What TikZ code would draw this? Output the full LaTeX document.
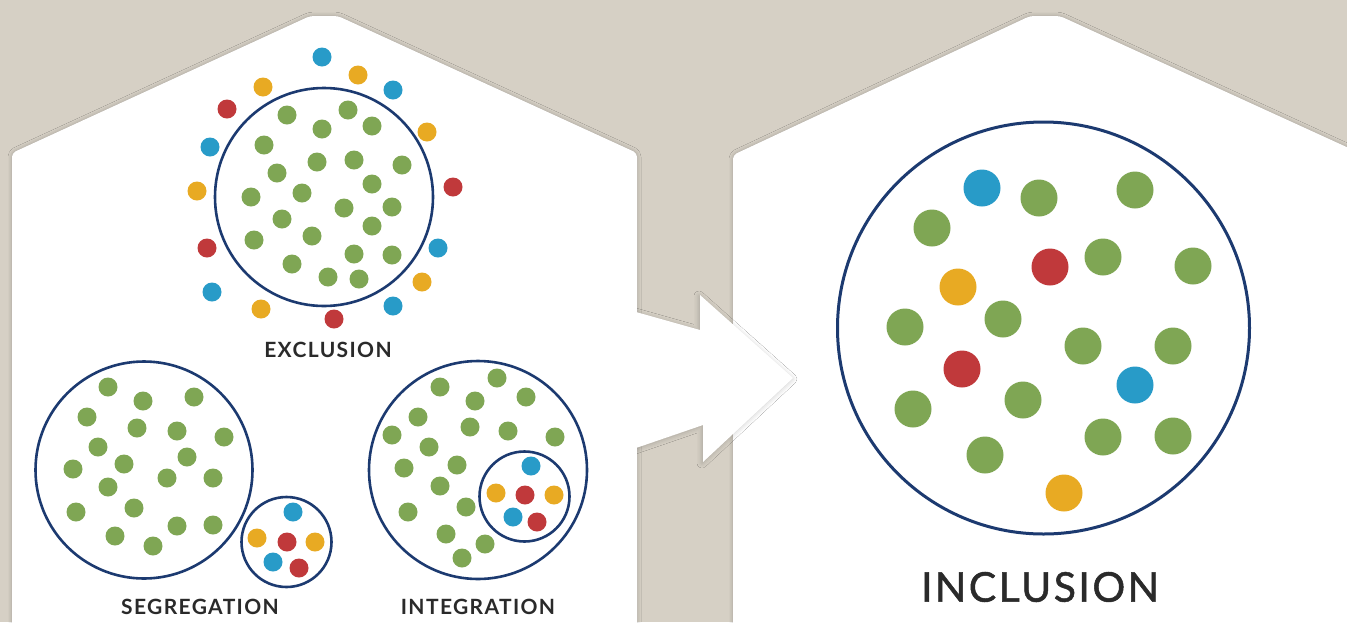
\documentclass[tikz,border=0pt]{standalone}
\usepackage{fontspec}
\setmainfont{Lato}
\newfontfamily\smalllabelfont{Lato}[LetterSpace=6.5]
\newfontfamily\biglabelfont{Lato}[LetterSpace=6, RawFeature={embolden=1.2}]
\usetikzlibrary{shadows.blur}

\definecolor{canvasbeige}{HTML}{D6D0C5}
\definecolor{dotgreen}{HTML}{7FA654}
\definecolor{dotblue}{HTML}{289BC8}
\definecolor{dotorange}{HTML}{E8AA23}
\definecolor{dotred}{HTML}{C0393B}
\definecolor{ringnavy}{HTML}{1C3A70}
\definecolor{labelgrey}{HTML}{2A2A2A}

\tikzset{
  panel/.style={fill=white, blur shadow={shadow xshift=0pt, shadow yshift=0pt,
      shadow blur radius=4pt, shadow opacity=25}},
  arrowshape/.style={fill=white, blur shadow={shadow xshift=-1pt, shadow yshift=-1pt,
      shadow blur radius=5pt, shadow opacity=22}},
  ring/.style={circle, draw=ringnavy, line width=2.6pt, inner sep=0pt},
  smalldot/.style={circle, inner sep=0pt, minimum size=19pt},
  bigdot/.style={circle, inner sep=0pt, minimum size=37pt},
  smalllabel/.style={text=labelgrey, font=\smalllabelfont\bfseries\fontsize{21}{23}\selectfont},
  biglabel/.style={text=labelgrey, font=\biglabelfont\fontsize{41}{46}\selectfont},
}

\begin{document}
\begin{tikzpicture}[x=1pt, y=-1pt]
\useasboundingbox (0,0) rectangle (1347,622);
\clip (0,0) rectangle (1347,622);
\fill[canvasbeige] (0,0) rectangle (1347,622);

% house-shaped panels
\path[panel, rounded corners=4pt] (733,640) -- (733,155) -- (1030,16) -- (1060,16)
  -- (1375,160) -- (1375,640) -- cycle;
\path[panel, rounded corners=4pt] (12,640) -- (12,153) -- (310,16) -- (338,16)
  -- (637,153) -- (637,640) -- cycle;

% arrow leaving the left panel
\begin{scope}
  \clip (637,0) rectangle (1347,622);
  \path[arrowshape] (636,312) -- (700,330) -- (700,295) -- (793,378) -- (703,462)
    -- (703,425) -- (636,448) -- cycle;
\end{scope}

% ---------- exclusion ----------
\foreach \x/\y [count=\i] in {287/115, 348/110, 322/129, 372/126, 264/145, 317/162,
  354/160, 402/165, 277/173, 372/184, 251/197, 302/193, 344/208, 392/207, 282/219,
  372/226, 254/240, 312/236, 354/254, 392/255, 292/264, 328/277, 359/279}
  \node[smalldot, fill=dotgreen] (exg\i) at (\x,\y) {};
\node[ring, minimum size=218pt] (exring) at (324,197) {};
\foreach \x/\y/\c [count=\i] in {322/57/dotblue, 358/75/dotorange, 393/90/dotblue,
  263/87/dotorange, 227/109/dotred, 427/132/dotorange, 210/147/dotblue,
  453/187/dotred, 197/191/dotorange, 207/248/dotred, 438/248/dotblue,
  422/282/dotorange, 212/292/dotblue, 261/309/dotorange, 393/306/dotblue,
  334/319/dotred}
  \node[smalldot, fill=\c] (exo\i) at (\x,\y) {};
\node[smalllabel] (exlabel) at (328,350) {EXCLUSION};

% ---------- segregation ----------
\node[ring, minimum size=217pt] (segring) at (144,470) {};
\foreach \x/\y [count=\i] in {108/387, 143/401, 194/397, 87/417, 137/428, 177/431,
  224/437, 98/447, 187/457, 73/469, 124/464, 167/478, 213/478, 108/487, 76/512,
  134/508, 177/526, 213/525, 115/536, 153/546}
  \node[smalldot, fill=dotgreen] (segg\i) at (\x,\y) {};
\node[ring, minimum size=90pt] (segsmall) at (286.5,542) {};
\foreach \x/\y/\c [count=\i] in {293/512/dotblue, 257/538/dotorange,
  287/542/dotred, 315/542/dotorange, 273/562/dotblue, 299/568/dotred}
  \node[smalldot, fill=\c] (sego\i) at (\x,\y) {};
\node[smalllabel] (seglabel) at (200,607) {SEGREGATION};

% ---------- integration ----------
\node[ring, minimum size=218pt] (intring) at (478,470) {};
\foreach \x/\y [count=\i] in {440/387, 497/378, 475/401, 526/397, 418/417, 470/427,
  508/431, 555/437, 392/435, 429/447, 457/465, 404/468, 440/486, 408/512, 466/507,
  446/534, 485/544, 462/558}
  \node[smalldot, fill=dotgreen] (intg\i) at (\x,\y) {};
\node[ring, minimum size=90pt] (intsmall) at (524.5,496.5) {};
\foreach \x/\y/\c [count=\i] in {531/466/dotblue, 496/493/dotorange,
  525/495/dotred, 554/495/dotorange, 513/517/dotblue, 537/522/dotred}
  \node[smalldot, fill=\c] (into\i) at (\x,\y) {};
\node[smalllabel] (intlabel) at (478,607) {INTEGRATION};

% ---------- inclusion ----------
\node[ring, line width=3pt, minimum size=412pt] (incring) at (1043.5,328) {};
\foreach \x/\y/\c [count=\i] in {982/188/dotblue, 1039/198/dotgreen,
  1135/190/dotgreen, 932/228/dotgreen, 1050/267/dotred, 1103/257/dotgreen,
  1193/266/dotgreen, 958/287/dotorange, 905/327/dotgreen, 1003/319/dotgreen,
  1083/346/dotgreen, 1173/346/dotgreen, 962/369/dotred, 1135/385/dotblue,
  913/409/dotgreen, 1023/400/dotgreen, 1103/437/dotgreen, 1173/436/dotgreen,
  985/455/dotgreen, 1064/493/dotorange}
  \node[bigdot, fill=\c] (incd\i) at (\x,\y) {};
\node[biglabel] (inclabel) at (1040,587) {INCLUSION};
\end{tikzpicture}
\end{document}
